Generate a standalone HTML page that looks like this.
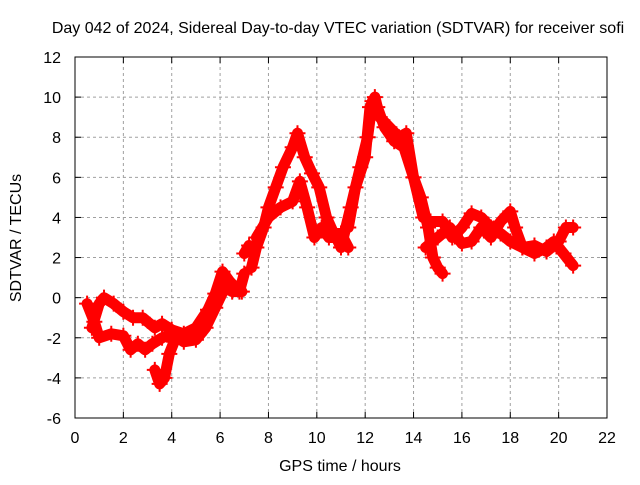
<!DOCTYPE html>
<html><head><meta charset="utf-8"><style>
body{margin:0;background:#fff}
svg text{font-family:"Liberation Sans",sans-serif;font-size:16px;fill:#000}
</style></head><body>
<svg id="chart" width="640" height="480" xmlns="http://www.w3.org/2000/svg">
<text x="338" y="33" text-anchor="middle">Day 042 of 2024, Sidereal Day-to-day VTEC variation (SDTVAR) for receiver sofi</text>
<text x="340" y="471" text-anchor="middle">GPS time / hours</text>
<text transform="translate(21,238) rotate(-90)" text-anchor="middle">SDTVAR / TECUs</text>
<g id="grid"></g>
<g id="marks"></g>
<rect x="75" y="57" width="532" height="361" fill="none" stroke="#000" stroke-width="1"/>
<g id="ticks"></g>
</svg>
<script>
const xTicks=[0,2,4,6,8,10,12,14,16,18,20,22];
const yTicks=[-6,-4,-2,0,2,4,6,8,10,12];
const trackA_t=[0.5,0.8,1.0,1.5,2.0,2.3,2.6,2.9,3.2,3.6,4.0,4.5,5.0,5.4,5.8,6.2,6.5,6.9];
const trackA_v=[-0.3,-1.2,-2.0,-1.8,-1.9,-2.6,-2.3,-2.6,-2.3,-2.0,-1.8,-2.2,-2.1,-1.5,-0.5,0.5,0.3,0.3];
const trackB_t=[0.7,1.0,1.2,1.6,2.0,2.4,2.8,3.3,3.6,4.0,4.5,5.0,5.5,5.8,6.1,6.4,6.8,7.0];
const trackB_v=[-1.5,-0.3,0.0,-0.3,-0.7,-1.0,-1.0,-1.5,-1.3,-1.6,-1.8,-1.5,-0.6,0.2,1.3,0.8,0.3,1.2];
const trackC_t=[3.3,3.5,3.7,3.9,4.1];
const trackC_v=[-3.6,-4.3,-4.0,-2.8,-2.2];
const trackD_t=[7.0,7.2];
const trackD_v=[2.2,2.6];
const trackE_t=[7.3,7.5,7.8,8.0,8.3,8.6,9.0,9.2,9.5,9.8,10.1,10.4,10.7,11.0,11.3];
const trackE_v=[1.5,2.5,3.5,4.5,5.5,6.5,7.5,8.2,7.0,6.2,5.5,4.0,3.2,3.2,2.5];
const trackF_t=[7.5,8.0,8.5,9.0,9.3,9.6,9.9,10.2,10.5,10.8,11.0,11.4,11.8,12.1,12.3,12.5,12.8,13.2,13.6,14.0,14.3,14.6,14.8,15.0,15.2];
const trackF_v=[3.0,4.0,4.5,4.8,5.8,4.5,3.0,3.5,3.0,3.0,2.5,4.5,6.5,8.0,9.8,9.5,8.5,7.8,7.5,6.0,5.0,3.5,2.0,1.5,1.2];
const trackG_t=[11.3,11.6,12.0,12.2,12.4,12.6,13.0,13.4,13.7,14.0,14.4,14.7,15.2,15.6,16.0,16.4,16.8,17.2,17.6,18.0,18.5,19.0,19.5,20.0,20.3,20.6];
const trackG_v=[3.5,5.5,7.0,9.5,10.0,9.0,8.5,8.0,8.2,6.0,4.0,3.8,3.8,3.0,3.5,4.2,4.0,3.5,3.2,2.8,2.5,2.6,2.3,2.8,3.5,3.5];
const trackH_t=[14.5,15.0,15.5,16.0,16.4,16.8,17.2,17.6,18.0,18.2,18.5,19.0,19.5,19.8,20.2,20.6];
const trackH_v=[2.5,3.0,3.5,2.7,2.8,3.5,3.0,3.8,4.3,3.5,2.5,2.2,2.5,2.8,2.2,1.6];
const tracks=[[trackA_t,trackA_v],[trackB_t,trackB_v],[trackC_t,trackC_v],[trackD_t,trackD_v],[trackE_t,trackE_v],[trackF_t,trackF_v],[trackG_t,trackG_v],[trackH_t,trackH_v]];

const NS="http://www.w3.org/2000/svg";
const X0=75,X1=607,Y0=418,Y1=57;
function sx(t){return X0+(t-0)/(22-0)*(X1-X0);}
function sy(v){return Y0-(v+6)/(12+6)*(Y0-Y1);}
function mk(tag,attrs,parent){const e=document.createElementNS(NS,tag);for(const k in attrs)e.setAttribute(k,attrs[k]);parent.appendChild(e);return e;}
const grid=document.getElementById('grid'),ticks=document.getElementById('ticks'),marks=document.getElementById('marks');
xTicks.forEach(t=>{
  const x=sx(t);
  if(t>0&&t<22){const g=mk('line',{x1:x,x2:x,y1:Y0,y2:Y1,stroke:'#a0a0a0','stroke-dasharray':'3,3'},grid);
  
  }
  mk('line',{x1:x,x2:x,y1:Y0,y2:Y0-6,stroke:'#000'},ticks);
  mk('line',{x1:x,x2:x,y1:Y1,y2:Y1+6,stroke:'#000'},ticks);
  const l=mk('text',{x:x,y:Y0+25,'text-anchor':'middle'},ticks);l.textContent=t;
  
  
});
yTicks.forEach(v=>{
  const y=sy(v);
  if(v>-6&&v<12){const g=mk('line',{x1:X0,x2:X1,y1:y,y2:y,stroke:'#a0a0a0','stroke-dasharray':'3,3'},grid);
  
  }
  mk('line',{x1:X0,x2:X0+6,y1:y,y2:y,stroke:'#000'},ticks);
  mk('line',{x1:X1,x2:X1-6,y1:y,y2:y,stroke:'#000'},ticks);
  const l=mk('text',{x:X0-14,y:y+6,'text-anchor':'end'},ticks);l.textContent=v;
  
  
});
tracks.forEach(([ts,vs])=>{
  const d=ts.map((t,i)=>(i?'L':'M')+sx(t).toFixed(1)+','+sy(vs[i]).toFixed(1)).join(' ');
  const p=mk('path',{d:d,fill:'none',stroke:'#f00','stroke-width':11,'stroke-linejoin':'round','stroke-linecap':'round'},marks);
  
  
  ts.forEach((t,i)=>{
    const x=sx(t),y=sy(vs[i]);
    const m=mk('path',{d:`M${x-8},${y}H${x+8}M${x},${y-8}V${y+8}`,stroke:'#f00','stroke-width':2},marks);
    
    
  });
});
</script>
</body></html>
